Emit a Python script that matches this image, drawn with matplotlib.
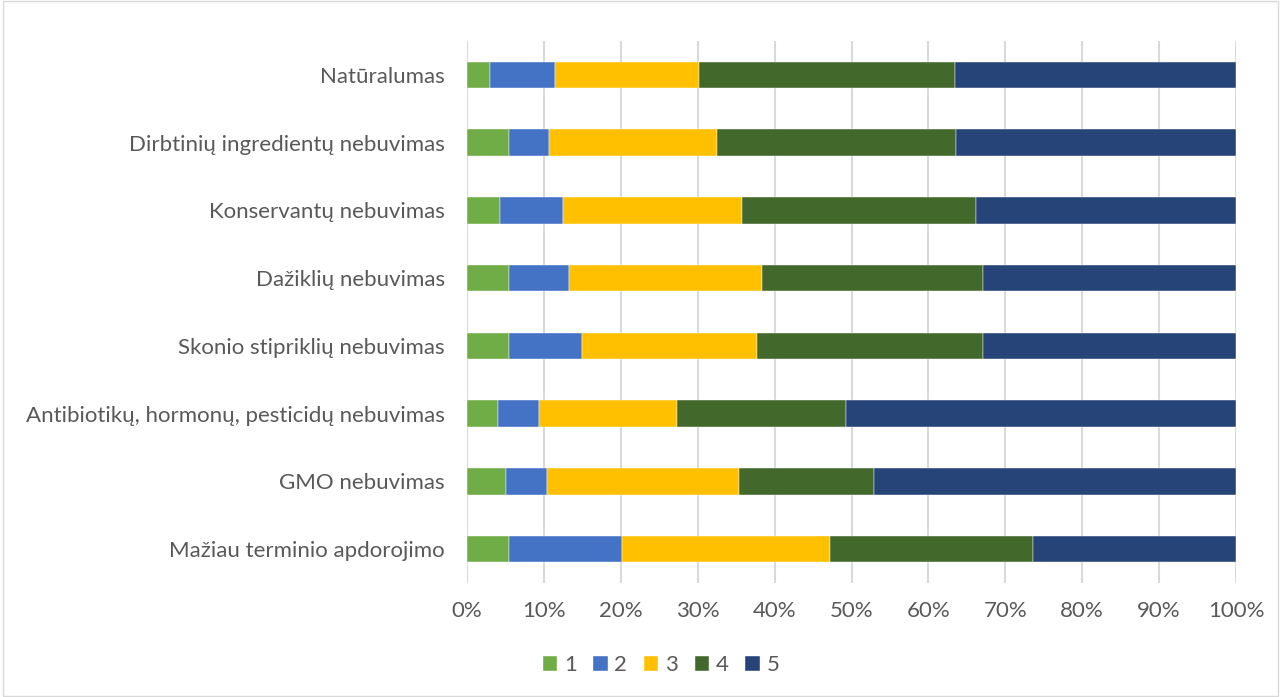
import matplotlib.pyplot as plt
from matplotlib.ticker import PercentFormatter
from matplotlib.patches import Rectangle

plt.rcParams['font.family'] = ['Lato', 'DejaVu Sans']

categories = [
    "Natūralumas",
    "Dirbtinių ingredientų nebuvimas",
    "Konservantų nebuvimas",
    "Dažiklių nebuvimas",
    "Skonio stipriklių nebuvimas",
    "Antibiotikų, hormonų, pesticidų nebuvimas",
    "GMO nebuvimas",
    "Mažiau terminio apdorojimo",
]
series_names = ["1", "2", "3", "4", "5"]
# procentai pagal kategoriją
s1 = [3.0, 5.4, 4.3, 5.4, 5.4, 4.0, 5.0, 5.4]
s2 = [8.4, 5.3, 8.2, 7.8, 9.6, 5.4, 5.4, 14.7]
s3 = [18.7, 21.8, 23.2, 25.1, 22.7, 17.9, 25.0, 27.1]
s4 = [33.4, 31.1, 30.5, 28.8, 29.4, 22.0, 17.5, 26.4]
s5 = [36.5, 36.4, 33.8, 32.9, 32.9, 50.7, 47.1, 26.4]
colors = ["#70AD47", "#4472C4", "#FFC000", "#43682B", "#264478"]

fig = plt.figure(figsize=(12.81, 6.97), dpi=100)
ax = fig.add_axes([0.3646, 0.1636, 0.6003, 0.7776])

y = list(range(len(categories)))
left = [0.0] * len(categories)
for name, vals, c in zip(series_names, [s1, s2, s3, s4, s5], colors):
    ax.barh(y, vals, left=left, height=0.39, color=c, label=name,
            edgecolor="white", linewidth=0.3, zorder=3)
    left = [l + v for l, v in zip(left, vals)]

ax.set_xlim(0, 100)
ax.set_ylim(len(categories) - 0.5, -0.5)
ax.set_yticks(y)
ax.set_yticklabels(categories)
ax.set_xticks(range(0, 101, 10))
ax.xaxis.set_major_formatter(PercentFormatter(decimals=0))
ax.grid(axis="x", color="#D9D9D9", linewidth=1.5, zorder=0)
for s in ax.spines.values():
    s.set_visible(False)
ax.tick_params(length=0, colors="#595959", labelsize=16)
ax.tick_params(axis="y", pad=16)
ax.tick_params(axis="x", pad=13)

leg = ax.legend(loc="center", ncol=5, frameon=False,
                fontsize=16, labelcolor="#595959", handlelength=0.65,
                handleheight=0.65, handletextpad=0.3, columnspacing=0.75)
leg.set_bbox_to_anchor((661 / 1281, 1 - 665 / 697), transform=fig.transFigure)

fig.patches.append(Rectangle((0.002, 0.002), 0.996, 0.996, transform=fig.transFigure,
                             fill=False, edgecolor="#D9D9D9", linewidth=1))

fig.savefig("out.png", dpi=100)
